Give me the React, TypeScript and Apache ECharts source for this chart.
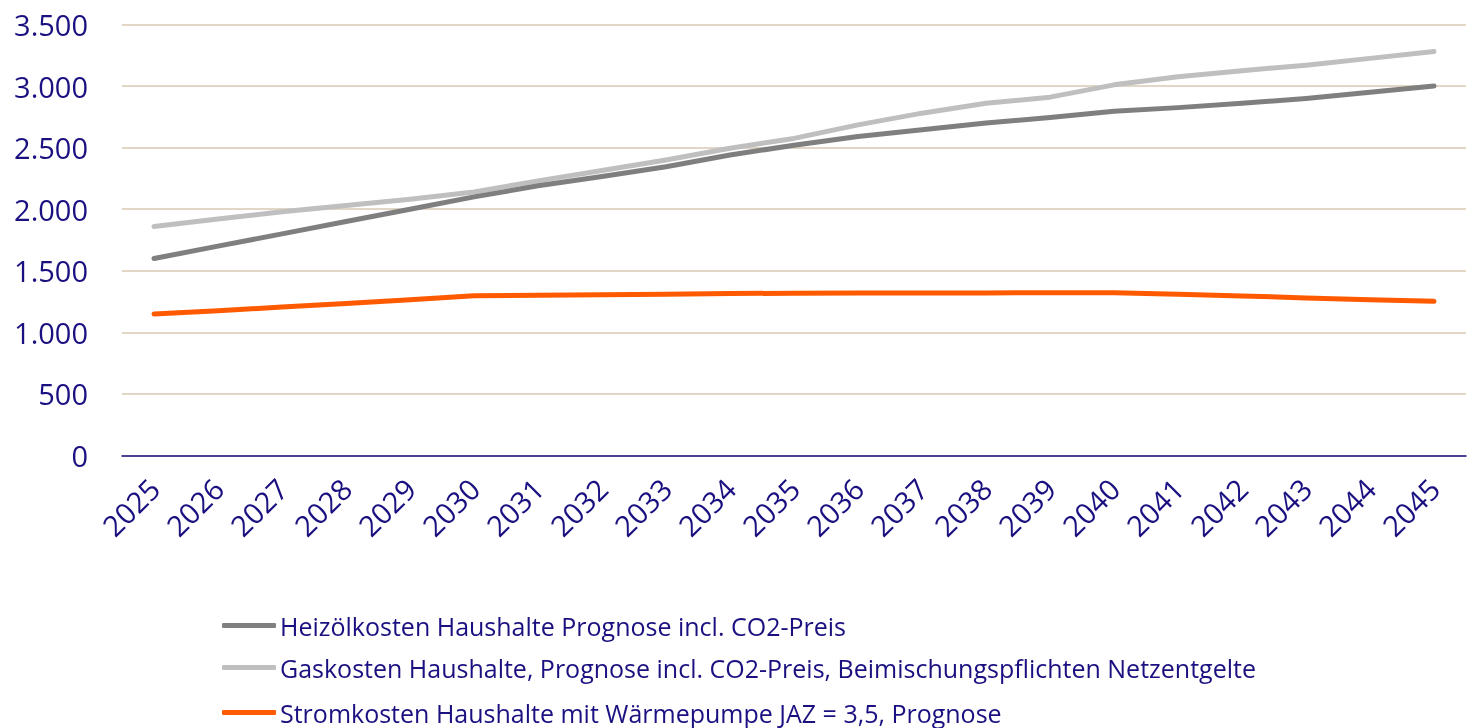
import React, { useEffect, useRef } from "react";
import * as echarts from "echarts";

const years = ["2025","2026","2027","2028","2029","2030","2031","2032","2033","2034","2035","2036","2037","2038","2039","2040","2041","2042","2043","2044","2045"];
const heizoel = [1600,1700,1800,1900,2000,2100,2190,2265,2345,2440,2520,2590,2645,2700,2745,2795,2825,2860,2900,2950,3000];
const gas = [1860,1920,1980,2030,2080,2140,2230,2315,2400,2495,2575,2685,2780,2860,2910,3010,3075,3125,3170,3225,3280];
const strom = [1150,1175,1205,1235,1265,1298,1302,1306,1310,1315,1318,1320,1320,1320,1322,1322,1310,1296,1280,1265,1252];
const seriesNames = [
  "Heizölkosten Haushalte Prognose incl. CO2-Preis",
  "Gaskosten Haushalte, Prognose incl. CO2-Preis, Beimischungspflichten Netzentgelte",
  "Stromkosten Haushalte mit Wärmepumpe JAZ = 3,5, Prognose",
];
const colors = ["#7f7f7f", "#bfbfbf", "#ff5a00"];
const legendRowCenters = [626, 668, 713];

const NAVY = "#1a1080";
const FONT = "'Open Sans', 'Noto Sans', sans-serif";

export default function App() {
  const ref = useRef<HTMLDivElement>(null);
  useEffect(() => {
    if (!ref.current) return;
    const chart = echarts.init(ref.current, null, { renderer: "svg" });
    const data = [heizoel, gas, strom];
    chart.setOption({
      animation: false,
      textStyle: { fontFamily: FONT },
      grid: { left: 122, right: 2, top: 24.5, bottom: 272.5, containLabel: false },
      xAxis: {
        type: "category",
        data: years,
        boundaryGap: true,
        axisLine: { lineStyle: { color: NAVY, width: 1.5 } },
        axisTick: { show: false },
        axisLabel: { rotate: 45, color: NAVY, fontSize: 29, margin: 28, fontFamily: FONT, interval: 0 },
      },
      yAxis: {
        type: "value",
        min: 0,
        max: 3500,
        interval: 500,
        axisLine: { show: false },
        axisTick: { show: false },
        splitLine: { lineStyle: { color: "#d8c8b2", width: 1.5 } },
        axisLabel: {
          color: NAVY,
          fontSize: 29,
          margin: 34,
          fontFamily: FONT,
          formatter: (v: number) => v.toLocaleString("de-DE"),
        },
      },
      legend: seriesNames.map((name, i) => ({
        orient: "horizontal",
        left: 222,
        top: legendRowCenters[i] - 13,
        padding: 0,
        itemWidth: 54,
        itemHeight: 5,
        icon: "roundRect",
        textStyle: { color: NAVY, fontSize: 25, fontFamily: FONT, padding: [0, 0, 0, -1] },
        data: [name],
      })),
      series: seriesNames.map((name, i) => ({
        name,
        type: "line",
        data: data[i],
        symbol: "none",
        color: colors[i],
        lineStyle: { color: colors[i], width: 5, cap: "round", join: "round" },
        z: 3 - i,
      })),
    });
    return () => chart.dispose();
  }, []);
  return <div ref={ref} style={{ position: "fixed", left: 0, top: 0, width: 1468, height: 728 }} />;
}
